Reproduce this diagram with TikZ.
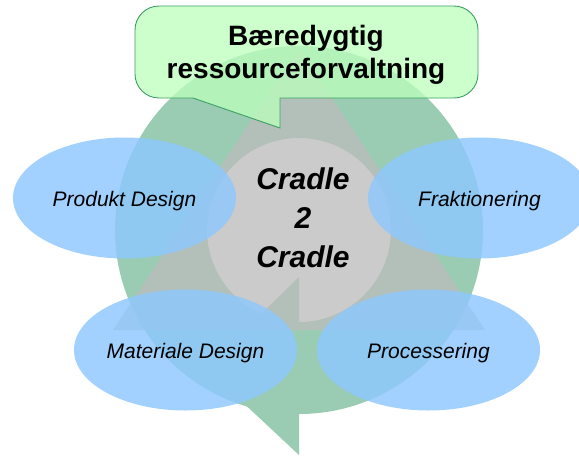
\documentclass[tikz,border=0pt]{standalone}
\usepackage{fontspec}
\setmainfont{Liberation Sans}
\usetikzlibrary{shapes.geometric}
\definecolor{ringgreen}{RGB}{153,204,178}
\definecolor{trigray}{RGB}{188,188,188}
\definecolor{ellblue}{RGB}{142,200,255}
\definecolor{callfill}{RGB}{188,255,188}
\definecolor{callline}{RGB}{60,160,100}
\tikzset{
  phase/.style={ellipse, fill=ellblue, fill opacity=0.82, text opacity=1,
    minimum width=223pt, minimum height=121pt, inner sep=0pt,
    text height=17pt, text depth=0pt,
    font=\itshape\fontsize{21}{25}\selectfont},
  ringfill/.style={fill=ringgreen},
  trifill/.style={fill=trigray, fill opacity=0.765},
  callout/.style={draw=callline, fill=callfill, fill opacity=0.76, line width=0.9pt},
  bigtext/.style={font=\bfseries\itshape\fontsize{30}{39}\selectfont, align=center, inner sep=0pt},
  titletext/.style={font=\bfseries\fontsize{28}{33}\selectfont, align=center, inner sep=0pt}
}
\begin{document}
\begin{tikzpicture}[x=1pt,y=-1pt]
\useasboundingbox[fill=white] (0,0) rectangle (579,456);
\coordinate (c) at (299,230);
% circular arrow
\path[ringfill, even odd rule] (c) circle[radius=184] (c) circle[radius=92];
\coordinate (ah1) at (299,277);
\coordinate (ah2) at (206,368);
\coordinate (ah3) at (299,455);
\path[ringfill] (ah1) -- (ah2) -- (ah3) -- cycle;
% triangle
\coordinate (t1) at (299,48);
\coordinate (t2) at (113,330);
\coordinate (t3) at (485,330);
\path[trifill] (t1) -- (t2) -- (t3) -- cycle;
% phases
\node[phase] (pd) at (124.5,198) {Produkt Design};
\node[phase] (fr) at (479.5,198) {Fraktionering};
\node[phase] (md) at (185.5,350) {Materiale Design};
\node[phase] (pr) at (428.5,350) {Processering};
% centre text
\node[bigtext] (c2c) at (303,218) {Cradle\\2\\Cradle};
% callout
\coordinate (p1) at (193,98);
\coordinate (p2) at (280,98);
\coordinate (tip) at (280,128);
\draw[callout] (p1) [rounded corners=24pt] -- (135,98) -- (135,6) -- (478,6) -- (478,98) [sharp corners] -- (p2) -- (tip) -- cycle;
\node[titletext] (title) at (306,55) {Bæredygtig\\ressourceforvaltning};
\end{tikzpicture}
\end{document}
